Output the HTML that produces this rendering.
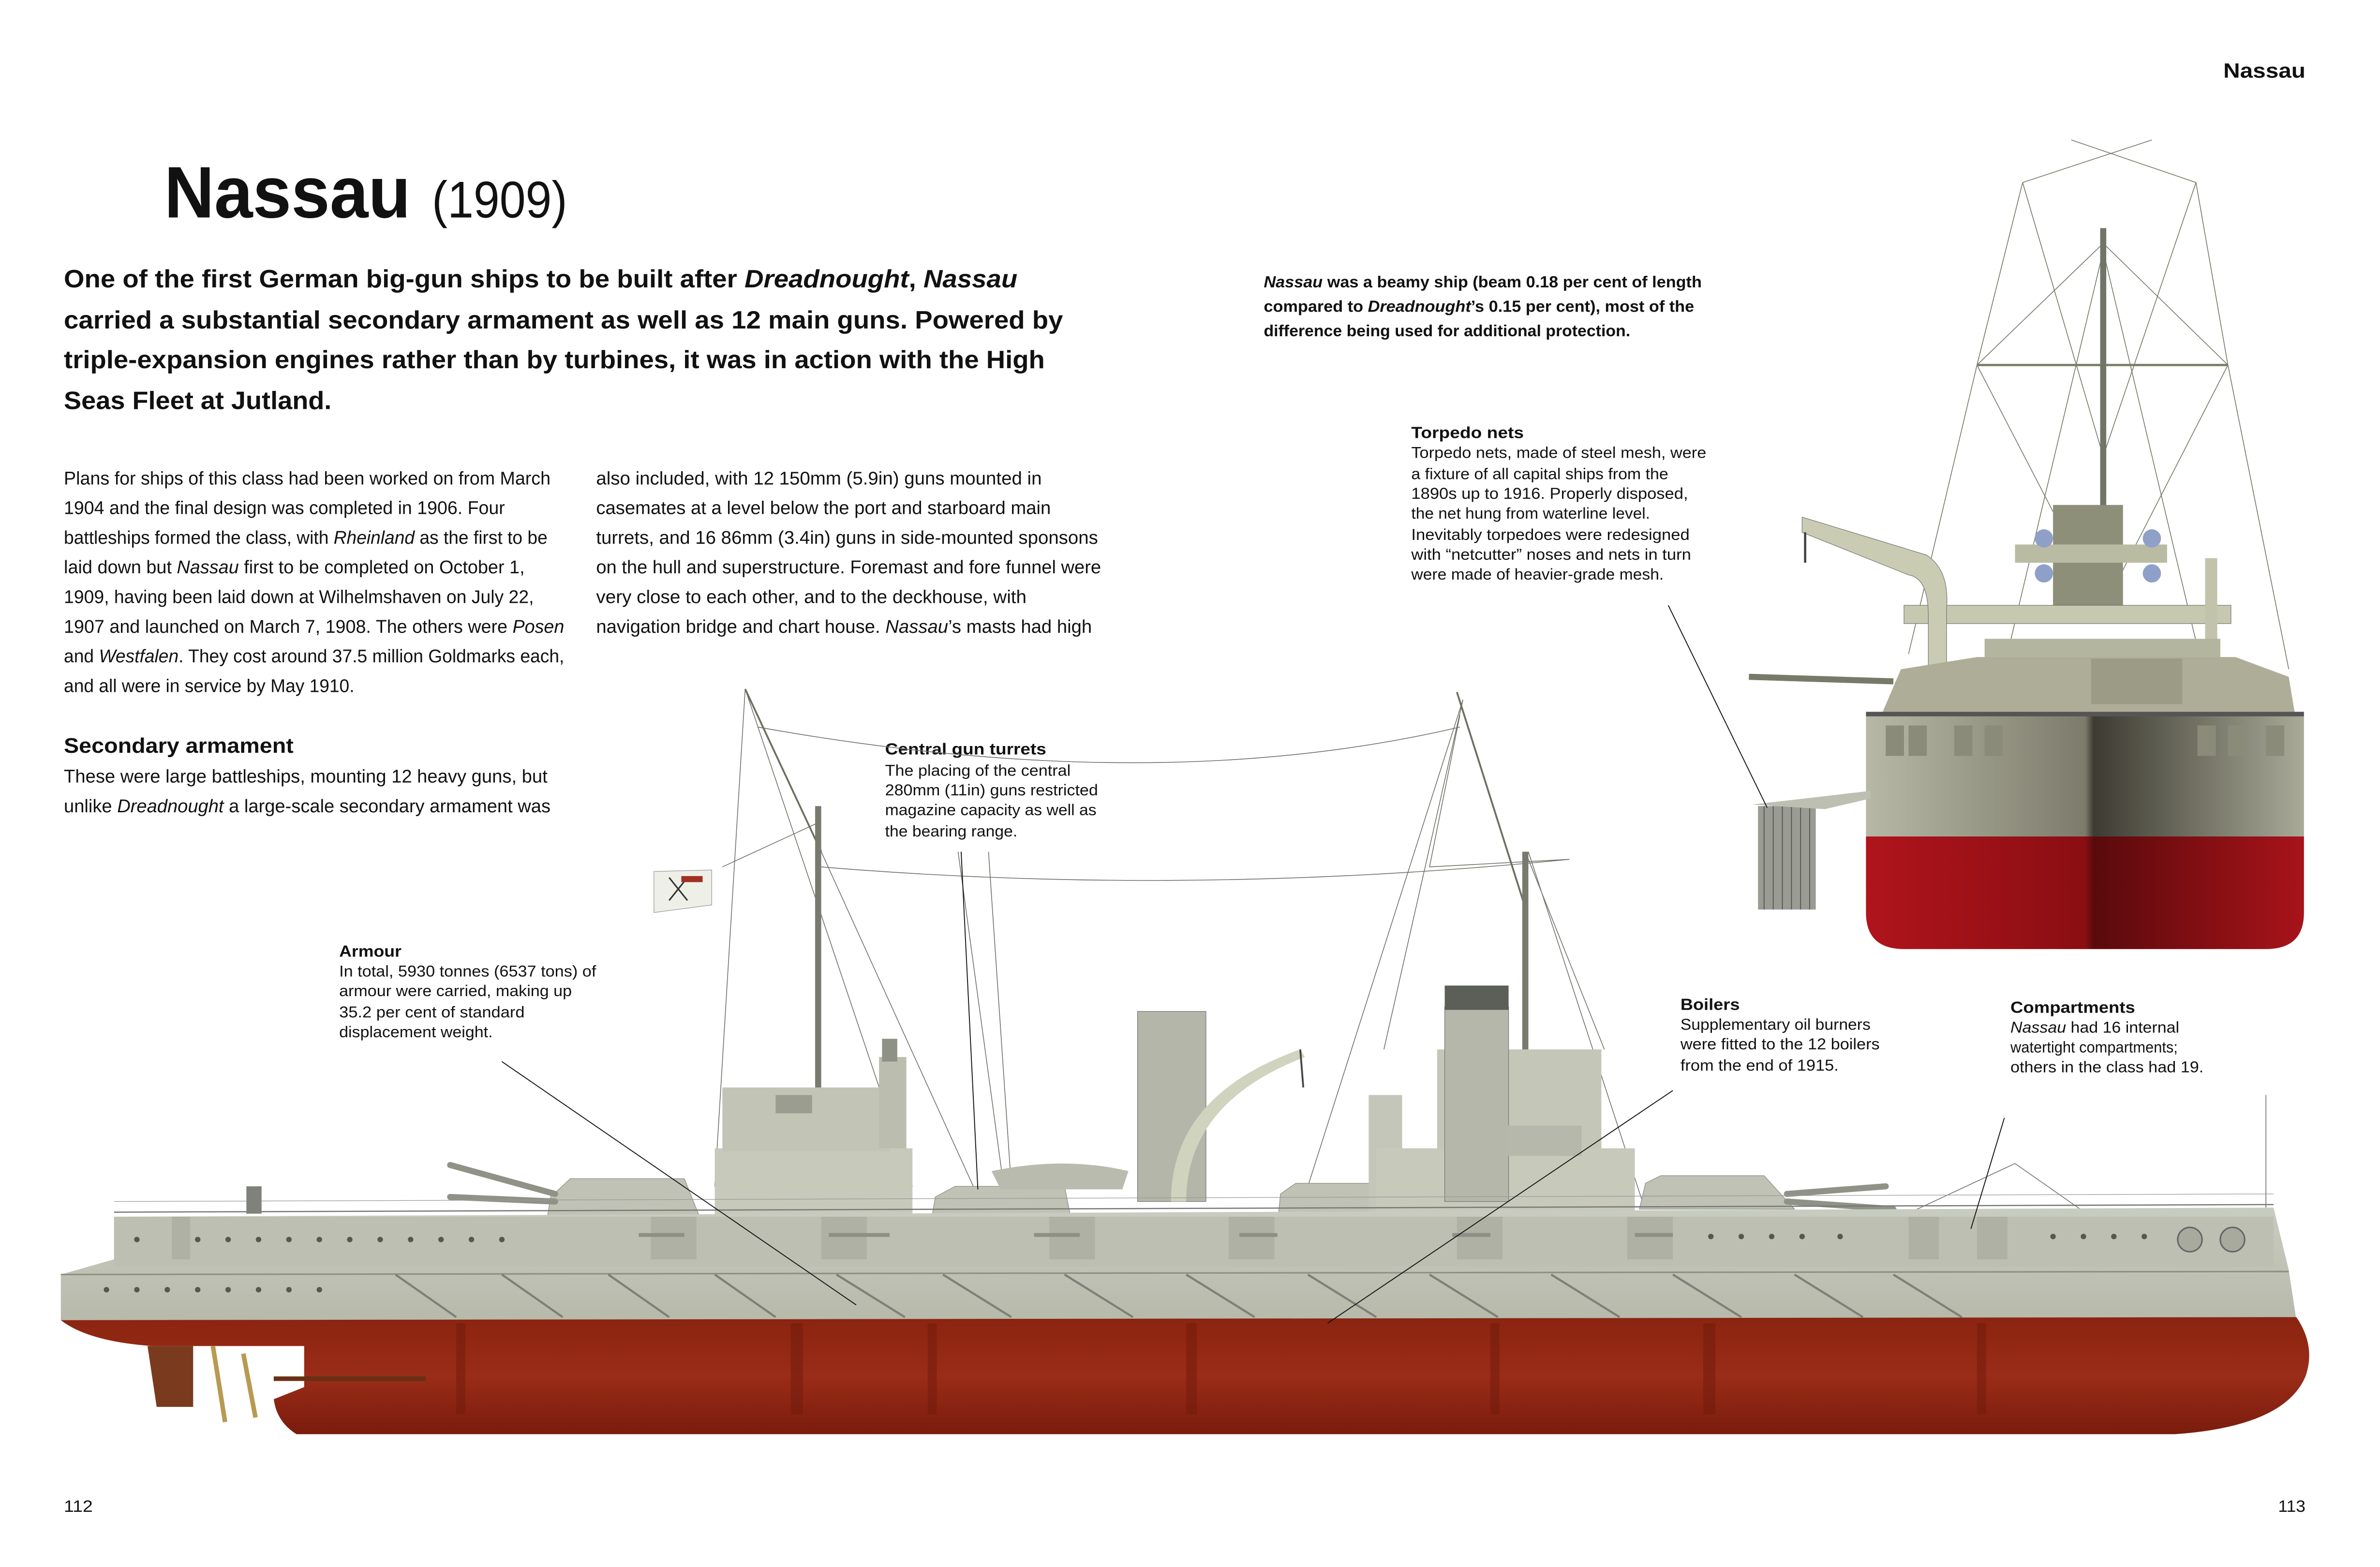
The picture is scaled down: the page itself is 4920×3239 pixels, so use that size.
<!DOCTYPE html>
<html><head><meta charset="utf-8"><style>
html,body{margin:0;padding:0;background:#fff;}
svg{display:block;}
text{font-family:"Liberation Sans",sans-serif;fill:#111;}
.b{font-weight:bold;}
</style></head><body>
<svg width="4920" height="3239" viewBox="0 0 1565 1030.3" xmlns="http://www.w3.org/2000/svg">
<defs>
<linearGradient id="red" x1="0" y1="0" x2="0" y2="1"><stop offset="0" stop-color="#8a2410"/><stop offset="0.5" stop-color="#9a2c18"/><stop offset="1" stop-color="#7a1c0c"/></linearGradient>
<linearGradient id="fred" x1="0" y1="0" x2="1" y2="0"><stop offset="0" stop-color="#b0141c"/><stop offset="0.5" stop-color="#8a0e12"/><stop offset="0.52" stop-color="#5a0a0c"/><stop offset="1" stop-color="#a8131a"/></linearGradient>
<linearGradient id="grey" x1="0" y1="0" x2="0" y2="1"><stop offset="0" stop-color="#c9ccc0"/><stop offset="1" stop-color="#b7b9ab"/></linearGradient>
<linearGradient id="fgrey" x1="0" y1="0" x2="1" y2="0"><stop offset="0" stop-color="#b7b8a6"/><stop offset="0.5" stop-color="#7d7c6c"/><stop offset="0.52" stop-color="#3d3b32"/><stop offset="1" stop-color="#a9aa98"/></linearGradient>
</defs>

<!-- header -->
<text x="1462" y="51" class="b" font-size="13.5" textLength="54" lengthAdjust="spacingAndGlyphs">Nassau</text>
<text x="108" y="143" class="b" font-size="48" textLength="162" lengthAdjust="spacingAndGlyphs">Nassau</text>
<text x="284" y="143" font-size="34" textLength="89" lengthAdjust="spacingAndGlyphs">(1909)</text>

<!-- intro -->
<g class="b" font-size="16.5">
<text x="42" y="189" textLength="627" lengthAdjust="spacingAndGlyphs">One of the first German big-gun ships to be built after <tspan font-style="italic">Dreadnought</tspan>, <tspan font-style="italic">Nassau</tspan></text>
<text x="42" y="216" textLength="657" lengthAdjust="spacingAndGlyphs">carried a substantial secondary armament as well as 12 main guns. Powered by</text>
<text x="42" y="242" textLength="645" lengthAdjust="spacingAndGlyphs">triple-expansion engines rather than by turbines, it was in action with the High</text>
<text x="42" y="269" textLength="176" lengthAdjust="spacingAndGlyphs">Seas Fleet at Jutland.</text>
</g>

<!-- body col1 -->
<g font-size="12.2" fill="#222">
<text x="42" y="318.5" textLength="320" lengthAdjust="spacingAndGlyphs">Plans for ships of this class had been worked on from March</text>
<text x="42" y="338" textLength="290" lengthAdjust="spacingAndGlyphs">1904 and the final design was completed in 1906. Four</text>
<text x="42" y="357.5" textLength="318" lengthAdjust="spacingAndGlyphs">battleships formed the class, with <tspan font-style="italic">Rheinland</tspan> as the first to be</text>
<text x="42" y="377" textLength="303" lengthAdjust="spacingAndGlyphs">laid down but <tspan font-style="italic">Nassau</tspan> first to be completed on October 1,</text>
<text x="42" y="396.5" textLength="309" lengthAdjust="spacingAndGlyphs">1909, having been laid down at Wilhelmshaven on July 22,</text>
<text x="42" y="416" textLength="329" lengthAdjust="spacingAndGlyphs">1907 and launched on March 7, 1908. The others were <tspan font-style="italic">Posen</tspan></text>
<text x="42" y="435.5" textLength="329" lengthAdjust="spacingAndGlyphs">and <tspan font-style="italic">Westfalen</tspan>. They cost around 37.5 million Goldmarks each,</text>
<text x="42" y="455" textLength="191" lengthAdjust="spacingAndGlyphs">and all were in service by May 1910.</text>
<text x="392" y="318.5" textLength="293" lengthAdjust="spacingAndGlyphs">also included, with 12 150mm (5.9in) guns mounted in</text>
<text x="392" y="338" textLength="299" lengthAdjust="spacingAndGlyphs">casemates at a level below the port and starboard main</text>
<text x="392" y="357.5" textLength="330" lengthAdjust="spacingAndGlyphs">turrets, and 16 86mm (3.4in) guns in side-mounted sponsons</text>
<text x="392" y="377" textLength="332" lengthAdjust="spacingAndGlyphs">on the hull and superstructure. Foremast and fore funnel were</text>
<text x="392" y="396.5" textLength="283" lengthAdjust="spacingAndGlyphs">very close to each other, and to the deckhouse, with</text>
<text x="392" y="416" textLength="326" lengthAdjust="spacingAndGlyphs">navigation bridge and chart house. <tspan font-style="italic">Nassau</tspan>’s masts had high</text>
<text x="42" y="495" class="b" font-size="14" textLength="151" lengthAdjust="spacingAndGlyphs">Secondary armament</text>
<text x="42" y="514.5" textLength="318" lengthAdjust="spacingAndGlyphs">These were large battleships, mounting 12 heavy guns, but</text>
<text x="42" y="534" textLength="320" lengthAdjust="spacingAndGlyphs">unlike <tspan font-style="italic">Dreadnought</tspan> a large-scale secondary armament was</text>
</g>

<!-- right para -->
<g font-size="10.5" class="b" fill="#111">
<text x="831" y="189" textLength="288" lengthAdjust="spacingAndGlyphs"><tspan font-style="italic">Nassau</tspan> was a beamy ship (beam 0.18 per cent of length</text>
<text x="831" y="205" textLength="283" lengthAdjust="spacingAndGlyphs">compared to <tspan font-style="italic">Dreadnought</tspan>’s 0.15 per cent), most of the</text>
<text x="831" y="221" textLength="241" lengthAdjust="spacingAndGlyphs">difference being used for additional protection.</text>
</g>

<!-- callout texts -->
<g font-size="10.3" fill="#222">
<text x="928" y="288" class="b" font-size="10.5" textLength="74" lengthAdjust="spacingAndGlyphs">Torpedo nets</text>
<text x="928" y="301" textLength="194" lengthAdjust="spacingAndGlyphs">Torpedo nets, made of steel mesh, were</text>
<text x="928" y="315" textLength="169" lengthAdjust="spacingAndGlyphs">a fixture of all capital ships from the</text>
<text x="928" y="328" textLength="182" lengthAdjust="spacingAndGlyphs">1890s up to 1916. Properly disposed,</text>
<text x="928" y="341" textLength="157" lengthAdjust="spacingAndGlyphs">the net hung from waterline level.</text>
<text x="928" y="355" textLength="183" lengthAdjust="spacingAndGlyphs">Inevitably torpedoes were redesigned</text>
<text x="928" y="368" textLength="184" lengthAdjust="spacingAndGlyphs">with “netcutter” noses and nets in turn</text>
<text x="928" y="381" textLength="166" lengthAdjust="spacingAndGlyphs">were made of heavier-grade mesh.</text>

<text x="582" y="496" class="b" font-size="10.5" textLength="106" lengthAdjust="spacingAndGlyphs">Central gun turrets</text>
<text x="582" y="510" textLength="122" lengthAdjust="spacingAndGlyphs">The placing of the central</text>
<text x="582" y="523" textLength="140" lengthAdjust="spacingAndGlyphs">280mm (11in) guns restricted</text>
<text x="582" y="536" textLength="139" lengthAdjust="spacingAndGlyphs">magazine capacity as well as</text>
<text x="582" y="550" textLength="87" lengthAdjust="spacingAndGlyphs">the bearing range.</text>

<text x="223" y="629" class="b" font-size="10.5" textLength="41" lengthAdjust="spacingAndGlyphs">Armour</text>
<text x="223" y="642" textLength="169" lengthAdjust="spacingAndGlyphs">In total, 5930 tonnes (6537 tons) of</text>
<text x="223" y="655" textLength="153" lengthAdjust="spacingAndGlyphs">armour were carried, making up</text>
<text x="223" y="669" textLength="122" lengthAdjust="spacingAndGlyphs">35.2 per cent of standard</text>
<text x="223" y="682" textLength="101" lengthAdjust="spacingAndGlyphs">displacement weight.</text>

<text x="1105" y="664" class="b" font-size="10.5" textLength="39" lengthAdjust="spacingAndGlyphs">Boilers</text>
<text x="1105" y="677" textLength="125" lengthAdjust="spacingAndGlyphs">Supplementary oil burners</text>
<text x="1105" y="690" textLength="131" lengthAdjust="spacingAndGlyphs">were fitted to the 12 boilers</text>
<text x="1105" y="704" textLength="104" lengthAdjust="spacingAndGlyphs">from the end of 1915.</text>

<text x="1322" y="666" class="b" font-size="10.5" textLength="82" lengthAdjust="spacingAndGlyphs">Compartments</text>
<text x="1322" y="679" textLength="111" lengthAdjust="spacingAndGlyphs"><tspan font-style="italic">Nassau</tspan> had 16 internal</text>
<text x="1322" y="692" textLength="110" lengthAdjust="spacingAndGlyphs">watertight compartments;</text>
<text x="1322" y="705" textLength="127" lengthAdjust="spacingAndGlyphs">others in the class had 19.</text>
</g>

<text x="42" y="994" font-size="11" textLength="19" lengthAdjust="spacingAndGlyphs">112</text>
<text x="1498" y="994" font-size="11" textLength="18" lengthAdjust="spacingAndGlyphs">113</text>

<!-- ========== FRONT VIEW ========== -->
<g stroke="#6f7560" stroke-width="0.5" fill="none">
<path d="M1362,92 L1444,120 M1415,92 L1330,120 M1330,120 L1300,240 M1444,120 L1465,240 M1330,120 L1383,300 M1444,120 L1383,300 M1300,240 L1383,160 L1465,240 M1300,240 L1255,430 M1465,240 L1505,440 M1300,240 L1383,400 M1465,240 L1383,400 M1383,165 L1320,430 M1383,165 L1446,430"/>
</g>
<line x1="1300" y1="240" x2="1465" y2="240" stroke="#7a7f65" stroke-width="1.5"/>
<rect x="1381" y="150" width="4" height="250" fill="#707567"/>
<!-- upper platform & funnel -->
<rect x="1350" y="332" width="46" height="70" fill="#8d8f79"/>
<rect x="1325" y="358" width="100" height="12" fill="#b9bca3"/>
<circle cx="1344" cy="354" r="6" fill="#8fa0c8"/><circle cx="1415" cy="354" r="6" fill="#8fa0c8"/>
<circle cx="1344" cy="377" r="6" fill="#8fa0c8"/><circle cx="1415" cy="377" r="6" fill="#8fa0c8"/>
<rect x="1252" y="398" width="215" height="12" fill="#c6c9b0" stroke="#777" stroke-width="0.4"/>
<!-- crane -->
<path d="M1185,340 L1267,365 Q1282,375 1280,400 L1280,440 L1268,440 L1268,405 Q1268,380 1255,378 L1185,350 Z" fill="#c9ccb3" stroke="#777" stroke-width="0.4"/>
<path d="M1187,350 L1187,370" stroke="#444" stroke-width="1.5"/>
<rect x="1450" y="367" width="8" height="75" fill="#c1c4ab"/>
<!-- superstructure -->
<rect x="1305" y="420" width="155" height="40" fill="#b4b59f"/>
<path d="M1235,475 L1250,440 L1300,432 L1470,432 L1505,445 L1510,475 Z" fill="#aeae98"/>
<rect x="1375" y="433" width="60" height="30" fill="#9c9c86"/>
<line x1="1150" y1="445" x2="1245" y2="448" stroke="#777a68" stroke-width="4"/>
<!-- hull grey -->
<path d="M1227,470 L1515,470 L1515,552 L1227,552 Z" fill="url(#fgrey)"/>
<rect x="1227" y="468" width="288" height="3" fill="#555"/>
<g fill="#8a8b78"><rect x="1240" y="477" width="12" height="20"/><rect x="1255" y="477" width="12" height="20"/><rect x="1285" y="477" width="12" height="20"/><rect x="1305" y="477" width="12" height="20"/><rect x="1445" y="477" width="12" height="20"/><rect x="1465" y="477" width="12" height="20"/><rect x="1490" y="477" width="12" height="20"/></g>
<!-- hull red -->
<path d="M1227,550 L1515,550 L1515,600 Q1515,624 1490,624 L1252,624 Q1227,624 1227,600 Z" fill="url(#fred)"/>
<!-- torpedo net -->
<rect x="1156" y="530" width="38" height="68" fill="#9a9c94"/>
<g stroke="#555" stroke-width="0.6"><line x1="1160" y1="530" x2="1160" y2="598"/><line x1="1166" y1="530" x2="1166" y2="598"/><line x1="1172" y1="530" x2="1172" y2="598"/><line x1="1178" y1="530" x2="1178" y2="598"/><line x1="1184" y1="530" x2="1184" y2="598"/><line x1="1190" y1="530" x2="1190" y2="598"/></g>
<path d="M1152,529 L1230,520 L1230,525 L1200,532 Z" fill="#bdbfb1"/>
<line x1="1097" y1="398" x2="1162" y2="531" stroke="#111" stroke-width="0.6"/>

<!-- ========== SIDE VIEW ========== -->
<!-- rigging -->
<g stroke="#6d6f66" stroke-width="0.5" fill="none">
<path d="M498,478 Q760,525 960,478"/>
<path d="M540,570 Q780,590 1032,565"/>
<path d="M490,453 L470,780 M490,453 L600,780 M540,560 L640,780 M962,460 L860,780 M962,460 L910,690 M1003,560 L1055,690 M540,540 L475,570 M960,470 L940,570 L1032,565 M1005,560 L1080,790"/>
<line x1="630" y1="560" x2="660" y2="780"/><line x1="650" y1="560" x2="665" y2="780"/>
<line x1="1490" y1="720" x2="1490" y2="800"/>
<path d="M1325,765 L1250,800 M1325,765 L1375,800"/>
</g>
<!-- masts -->
<path d="M490,453 L540,560" stroke="#6e6e62" stroke-width="1.2"/>
<rect x="536" y="530" width="4" height="270" fill="#777a6c"/>
<path d="M958,455 L1004,600" stroke="#6e6e62" stroke-width="1.2"/>
<rect x="1001" y="560" width="4" height="230" fill="#777a6c"/>
<!-- flag -->
<path d="M430,573 L468,572 L468,595 L430,600 Z" fill="#eef0e8" stroke="#999" stroke-width="0.4"/>
<path d="M440,577 L452,592 M452,577 L440,592" stroke="#333" stroke-width="1"/>
<rect x="448" y="576" width="14" height="4" fill="#a03020"/>
<!-- aft superstructure -->
<rect x="470" y="755" width="130" height="48" fill="#c7c9ba"/>
<rect x="475" y="715" width="110" height="42" fill="#c2c5b6"/>
<rect x="578" y="695" width="18" height="60" fill="#bbbdaf"/>
<rect x="580" y="683" width="10" height="15" fill="#8e9185"/>
<rect x="510" y="720" width="24" height="12" fill="#9a9d90"/>
<!-- turrets -->
<g fill="#bfc2b4" stroke="#8a8d80" stroke-width="0.4">
<path d="M360,800 L362,787 L375,775 L450,775 L460,800 Z"/>
<path d="M612,805 L615,787 L628,780 L700,780 L705,805 Z"/>
<path d="M840,805 L842,785 L852,778 L930,778 L937,805 Z"/>
<path d="M1078,795 L1082,778 L1092,773 L1160,773 L1180,795 Z"/>
</g>
<g stroke="#8f9286" stroke-width="4" stroke-linecap="round">
<line x1="365" y1="785" x2="296" y2="766"/><line x1="365" y1="790" x2="296" y2="787"/>
<line x1="1175" y1="790" x2="1245" y2="795"/><line x1="1175" y1="785" x2="1240" y2="780"/>
</g>
<!-- boats & funnels -->
<path d="M652,770 Q700,760 742,770 L738,782 L658,782 Z" fill="#b8bbae"/>
<rect x="748" y="665" width="45" height="125" fill="#b3b6a8" stroke="#777" stroke-width="0.4"/>
<path d="M770,790 Q770,720 855,690 L858,695 Q780,725 780,790 Z" fill="#d0d3be"/>
<path d="M855,690 L857,715" stroke="#444" stroke-width="1.2"/>
<rect x="900" y="720" width="22" height="80" fill="#c3c6b8"/>
<rect x="945" y="690" width="108" height="110" fill="#c4c7b8"/>
<rect x="905" y="755" width="170" height="45" fill="#c7c9bb"/>
<rect x="950" y="662" width="42" height="128" fill="#b4b7a9" stroke="#777" stroke-width="0.4"/>
<rect x="950" y="648" width="42" height="16" fill="#5c5e58"/>
<rect x="990" y="740" width="50" height="20" fill="#b5b8aa"/>
<!-- hull -->
<path d="M75,800 L1495,794 L1505,835 L1510,868 L40,868 L40,838 L75,828 Z" fill="url(#grey)"/>
<rect x="75" y="800" width="1420" height="33" fill="#bcbfb2"/>
<line x1="75" y1="797" x2="1495" y2="792" stroke="#777" stroke-width="0.8"/>
<line x1="75" y1="790" x2="1495" y2="785" stroke="#999" stroke-width="0.4"/>
<line x1="40" y1="838" x2="1505" y2="836" stroke="#8d9084" stroke-width="1"/>
<g stroke="#7d8076" stroke-width="1.4">
<line x1="260" y1="838" x2="300" y2="866"/><line x1="330" y1="838" x2="370" y2="866"/><line x1="400" y1="838" x2="440" y2="866"/><line x1="470" y1="838" x2="510" y2="866"/><line x1="550" y1="838" x2="595" y2="866"/><line x1="620" y1="838" x2="665" y2="866"/><line x1="700" y1="838" x2="745" y2="866"/><line x1="780" y1="838" x2="825" y2="866"/><line x1="860" y1="838" x2="905" y2="866"/><line x1="940" y1="838" x2="985" y2="866"/><line x1="1020" y1="838" x2="1065" y2="866"/><line x1="1100" y1="838" x2="1145" y2="866"/><line x1="1180" y1="838" x2="1225" y2="866"/><line x1="1245" y1="838" x2="1290" y2="866"/>
</g>
<g fill="#55584f">
<circle cx="90" cy="815" r="1.8"/><circle cx="130" cy="815" r="1.8"/><circle cx="150" cy="815" r="1.8"/><circle cx="170" cy="815" r="1.8"/><circle cx="190" cy="815" r="1.8"/><circle cx="210" cy="815" r="1.8"/><circle cx="230" cy="815" r="1.8"/><circle cx="250" cy="815" r="1.8"/><circle cx="270" cy="815" r="1.8"/><circle cx="290" cy="815" r="1.8"/><circle cx="310" cy="815" r="1.8"/><circle cx="330" cy="815" r="1.8"/><circle cx="1125" cy="813" r="1.8"/><circle cx="1145" cy="813" r="1.8"/><circle cx="1165" cy="813" r="1.8"/><circle cx="1185" cy="813" r="1.8"/><circle cx="1210" cy="813" r="1.8"/><circle cx="1350" cy="813" r="1.8"/><circle cx="1370" cy="813" r="1.8"/><circle cx="1390" cy="813" r="1.8"/><circle cx="1410" cy="813" r="1.8"/>
<circle cx="70" cy="848" r="1.8"/><circle cx="90" cy="848" r="1.8"/><circle cx="110" cy="848" r="1.8"/><circle cx="130" cy="848" r="1.8"/><circle cx="150" cy="848" r="1.8"/><circle cx="170" cy="848" r="1.8"/><circle cx="190" cy="848" r="1.8"/><circle cx="210" cy="848" r="1.8"/>
</g>
<!-- casemate guns -->
<g fill="#aeb1a4">
<rect x="113" y="800" width="12" height="28"/><rect x="428" y="800" width="30" height="28"/><rect x="540" y="800" width="30" height="28"/><rect x="690" y="800" width="30" height="28"/><rect x="808" y="800" width="30" height="28"/><rect x="958" y="800" width="30" height="28"/><rect x="1070" y="800" width="30" height="28"/><rect x="1255" y="800" width="20" height="28"/><rect x="1300" y="800" width="20" height="28"/>
</g>
<g stroke="#8d9084" stroke-width="2.5"><line x1="420" y1="812" x2="450" y2="812"/><line x1="545" y1="812" x2="585" y2="812"/><line x1="680" y1="812" x2="710" y2="812"/><line x1="815" y1="812" x2="840" y2="812"/><line x1="955" y1="812" x2="980" y2="812"/><line x1="1075" y1="812" x2="1100" y2="812"/></g>
<circle cx="1440" cy="815" r="8" fill="#a7aa9c" stroke="#666" stroke-width="1"/>
<circle cx="1468" cy="815" r="8" fill="#a7aa9c" stroke="#666" stroke-width="1"/>
<rect x="162" y="780" width="10" height="18" fill="#7f827a"/>
<!-- red hull -->
<path d="M40,868 L1510,866 Q1523,885 1516,905 Q1502,938 1430,943 L195,943 Q182,935 180,920 L200,912 L200,885 L100,885 Q58,882 40,868 Z" fill="url(#red)"/>
<g fill="#6f1a0c" opacity="0.5"><rect x="300" y="870" width="6" height="60"/><rect x="520" y="870" width="8" height="60"/><rect x="610" y="870" width="6" height="60"/><rect x="780" y="870" width="7" height="60"/><rect x="980" y="870" width="6" height="60"/><rect x="1120" y="870" width="8" height="60"/><rect x="1300" y="870" width="6" height="60"/></g>
<!-- rudder & props -->
<path d="M97,885 L127,885 L127,925 L103,925 Z" fill="#7a3a1e"/>
<path d="M140,885 L148,935 M160,890 L168,932" stroke="#b89a50" stroke-width="3"/>
<rect x="180" y="905" width="100" height="3" fill="#6a3015"/>

<!-- callout lines -->
<g stroke="#111" stroke-width="0.6">
<line x1="632" y1="560" x2="643" y2="782"/>
<line x1="330" y1="698" x2="563" y2="858"/>
<line x1="1100" y1="717" x2="873" y2="870"/>
<line x1="1318" y1="735" x2="1296" y2="808"/>
</g>
</svg>
</body></html>
